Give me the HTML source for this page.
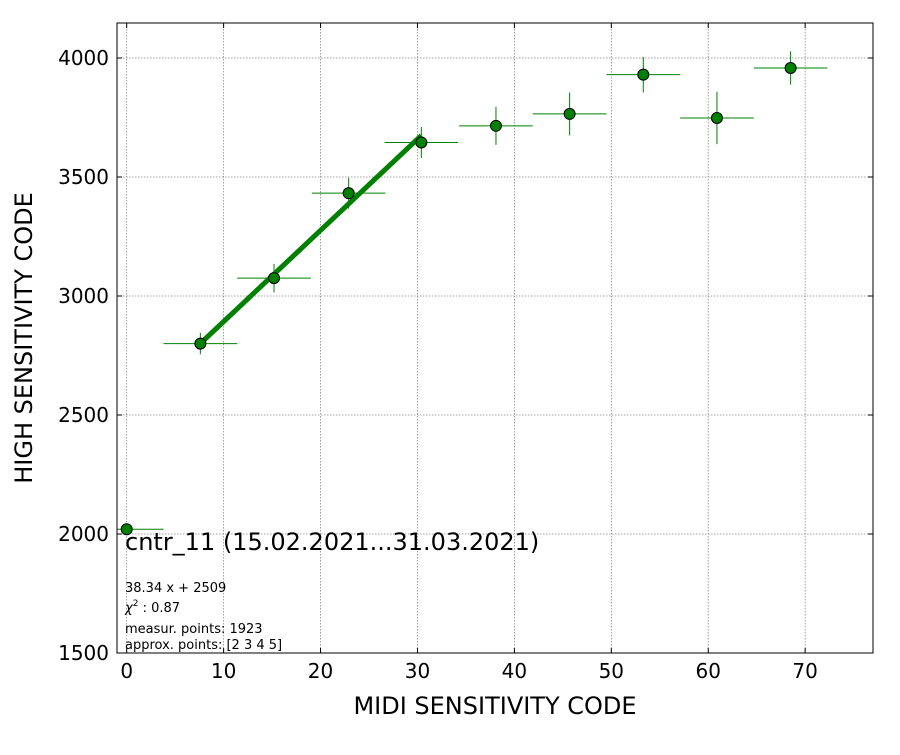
<!DOCTYPE html>
<html><head><meta charset="utf-8"><style>
body{margin:0;background:#fff;font-family:"Liberation Sans","DejaVu Sans",sans-serif}
svg text{font-family:"DejaVu Sans","Liberation Sans",sans-serif}
</style></head><body>
<svg id="chart" width="900" height="750">
<g id="grid"></g>
<g id="marks"></g>
<g id="axes"></g>
</svg>
<script>
const xs=[0,7.6,15.2,22.9,30.4,38.1,45.7,53.3,60.9,68.5];
const ys=[2020,2800,3075,3432,3645,3715,3765,3930,3748,3958];
const xerr=[3.8,3.8,3.8,3.8,3.8,3.8,3.8,3.8,3.8,3.8];
const yerr=[0,45,60,65,65,80,90,75,110,70];
const fitSlope=38.34, fitIntercept=2509;
const fitRange=[7.6,30.4];
const xTicks=[0,10,20,30,40,50,60,70];
const yTicks=[1500,2000,2500,3000,3500,4000];
const L=117,R=873,T=23,B=653,X0=-1,X1=77,Y0=1500,Y1=4147;
const sx=v=>L+(v-X0)/(X1-X0)*(R-L), sy=v=>B-(v-Y0)/(Y1-Y0)*(B-T);
const NS="http://www.w3.org/2000/svg";
function mk(p,tag,a){const e=document.createElementNS(NS,tag);for(const k in a)e.setAttribute(k,a[k]);p.appendChild(e);return e;}
const grid=document.getElementById('grid'),marks=document.getElementById('marks'),axes=document.getElementById('axes');
xTicks.forEach(t=>{const x=sx(t);
 const g=mk(grid,'line',{x1:x,x2:x,y1:T,y2:B,stroke:'#888','stroke-dasharray':'1.5,1.5','stroke-width':0.8});
 
 mk(axes,'line',{x1:x,x2:x,y1:B,y2:B-5,stroke:'#000'});mk(axes,'line',{x1:x,x2:x,y1:T,y2:T+5,stroke:'#000'});
 const tx=mk(axes,'text',{x:x,y:B+25,'text-anchor':'middle','font-size':20});tx.textContent=t;
 });
yTicks.forEach(t=>{const y=sy(t);
 const g=mk(grid,'line',{x1:L,x2:R,y1:y,y2:y,stroke:'#888','stroke-dasharray':'1.5,1.5','stroke-width':0.8});
 
 mk(axes,'line',{x1:L,x2:L+5,y1:y,y2:y,stroke:'#000'});mk(axes,'line',{x1:R,x2:R-5,y1:y,y2:y,stroke:'#000'});
 const tx=mk(axes,'text',{x:L-8,y:y+7,'text-anchor':'end','font-size':20});tx.textContent=t;
 });
const fl=mk(marks,'line',{x1:sx(fitRange[0]),y1:sy(fitSlope*fitRange[0]+fitIntercept),x2:sx(fitRange[1]),y2:sy(fitSlope*fitRange[1]+fitIntercept),stroke:'#008000','stroke-width':5});

xs.forEach((x,i)=>{const g=mk(marks,'g',{});
 
 mk(g,'line',{x1:Math.max(L,sx(x-xerr[i])),x2:sx(x+xerr[i]),y1:sy(ys[i]),y2:sy(ys[i]),stroke:'#008000','stroke-width':1});
 if(yerr[i])mk(g,'line',{x1:sx(x),x2:sx(x),y1:sy(ys[i]-yerr[i]),y2:sy(ys[i]+yerr[i]),stroke:'#008000','stroke-width':1});
 mk(g,'circle',{cx:sx(x),cy:sy(ys[i]),r:5.5,fill:'#008000',stroke:'#000','stroke-width':1});});
const fr=mk(axes,'rect',{x:L,y:T,width:R-L,height:B-T,fill:'none',stroke:'#000','stroke-width':1});

</script>
<svg style="position:absolute;left:0;top:0" width="900" height="750">
<text x="495" y="714" text-anchor="middle" font-size="24">MIDI SENSITIVITY CODE</text>
<text transform="translate(32,338) rotate(-90)" text-anchor="middle" font-size="24">HIGH SENSITIVITY CODE</text>
<text x="125" y="550" font-size="24">cntr_11 (15.02.2021...31.03.2021)</text>
<text x="125" y="592" font-size="13">38.34 x + 2509</text>
<text x="125" y="612" font-size="13"><tspan font-style="italic">χ</tspan><tspan font-size="9" dy="-6">2</tspan><tspan dy="6"> : 0.87</tspan></text>
<text x="125" y="633" font-size="13">measur. points: 1923</text>
<text x="125" y="649" font-size="13">approx. points: [2 3 4 5]</text>
</svg>
</body></html>
